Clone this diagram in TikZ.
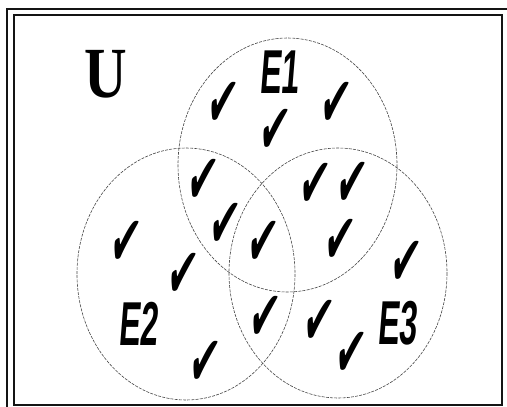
\documentclass[tikz,border=0pt]{standalone}
\usepackage{fontspec}
\usetikzlibrary{positioning}
\newfontfamily\setfont[FakeStretch=0.52,FakeSlant=0.08]{Liberation Sans}
\newfontfamily\unifont[FakeStretch=0.82]{Liberation Serif}
\newfontfamily\tickfont[FakeStretch=0.5,FakeSlant=0.12]{DejaVu Sans}
\definecolor{FrameBlack}{RGB}{20,20,20}
\definecolor{RingGray}{RGB}{70,70,70}
\tikzset{
  ring/.style={RingGray,line width=0.6pt,dash pattern=on 3pt off 1.2pt},
  setlabel/.style={font=\setfont\bfseries\fontsize{62}{62}\selectfont,inner sep=0pt},
  tick/.style={font=\tickfont\fontsize{70}{70}\selectfont,inner sep=0pt}
}

\begin{document}
\begin{tikzpicture}[x=1pt,y=-1pt]
      \useasboundingbox (0,0) rectangle (507,407);
      % frame
      \draw[FrameBlack,line width=2pt] (7,9) rectangle (510,412);
      \draw[FrameBlack,line width=2pt] (13.5,14.5) rectangle (502,405);
      % the three events
      \draw[ring] (287.5,165) ellipse [x radius=109.5,y radius=127];
      \draw[ring] (186,274) ellipse [x radius=109,y radius=126];
      \draw[ring] (338,273) ellipse [x radius=109,y radius=125];
      \node[font=\unifont\bfseries\fontsize{72}{72}\selectfont,inner sep=0pt] (univ) at (106,74) {U};
      \node[setlabel] (e1) at (279,72) {E1};
      \node[setlabel] (e2) at (138,324) {E2};
      \node[setlabel] (e3) at (397,323) {E3};
      % outcomes
      \foreach \px/\py [count=\i] in {220/104,333/104,272/131,200/181,222/225,
          312/185,349/184,337/241,260/243,123/243,180/275,403/263,
          262/318,316/322,348/354,202/363}
        \node[tick] (pt\i) at (\px,\py) {✔};
\end{tikzpicture}
\end{document}
